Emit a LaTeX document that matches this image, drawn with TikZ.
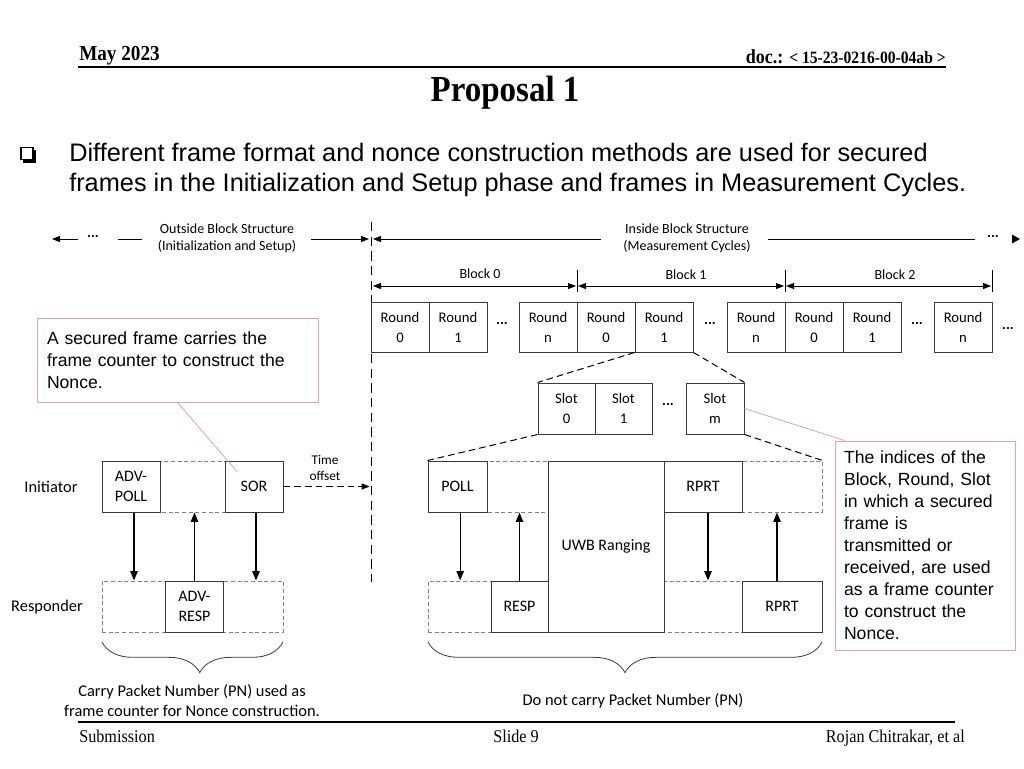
\documentclass[tikz,border=0pt]{standalone}
\usepackage{fontspec}
\setmainfont{Carlito}
\newfontfamily\arialf{Liberation Sans}
\newfontfamily\tnrf{Liberation Serif}
\usetikzlibrary{arrows.meta,decorations.pathreplacing}
\definecolor{pinkc}{HTML}{E8A0AA}
\definecolor{boxc}{HTML}{3A3A3A}
\definecolor{dashc}{HTML}{808080}
\begin{document}
\begin{tikzpicture}[x=0.75pt,y=-0.75pt,
  lbl/.style={font=\fontsize{10.5}{13}\selectfont, align=center, inner sep=1pt},
  bt/.style={font=\fontsize{12.3}{15}\selectfont, align=center, inner sep=1pt},
  dots/.style={font=\fontsize{11}{13}\selectfont\bfseries, inner sep=0pt},
  fbox/.style n args={2}{draw=boxc, line width=0.75pt, fill=white, minimum width=#1*0.75pt, minimum height=#2*0.75pt, inner sep=0pt, font=\fontsize{12}{15}\selectfont, align=center},
  sbox/.style n args={2}{fbox={#1}{#2}, font=\fontsize{11}{15}\selectfont},
  rowbox/.style n args={2}{draw=dashc, line width=0.75pt, dash pattern=on 3pt off 2pt, minimum width=#1*0.75pt, minimum height=#2*0.75pt, inner sep=0pt},
  harr/.style={line width=0.75pt, -{Triangle[length=6pt,width=4.5pt]}},
  barr/.style={line width=0.75pt, {Triangle[length=6pt,width=4.5pt]}-{Triangle[length=6pt,width=4.5pt]}},
  varr/.style={line width=1pt, -{Triangle[length=7pt,width=5.5pt]}},
  expd/.style={line width=0.75pt, dash pattern=on 5pt off 3pt},
  pinkln/.style={draw=pinkc, line width=0.6pt},
  callout/.style={draw=pinkc, line width=0.75pt, fill=white, inner sep=0pt, font=\arialf\fontsize{13.2}{16.5}\selectfont, align=left},
  hdr/.style={font=\tnrf\bfseries, inner sep=0pt},
  foot/.style={inner sep=0pt, font=\tnrf\fontsize{13.5}{15}\selectfont},
  brc/.style={line width=0.6pt, draw=boxc, decorate, decoration={brace, amplitude=23pt, aspect=#1}},
]
\useasboundingbox (0,0) rectangle (1024,768);

% ---------- header ----------
\node[hdr, anchor=base west] (may) at (79,60) {\fontsize{16}{18}\selectfont\scalebox{0.9}[1]{May 2023}};
\node[hdr, anchor=base east] (doc) at (946,63) {\scalebox{0.9}[1]{\fontsize{15}{17}\selectfont doc.: \fontsize{13}{15}\selectfont < 15-23-0216-00-04ab >}};
\coordinate (hl1) at (78,67);
\coordinate (hl2) at (946,67);
\draw[line width=1.5pt] (hl1) -- (hl2);
\node[hdr, anchor=base] (title) at (505,101) {\fontsize{27.5}{30}\selectfont\scalebox{0.9}[1]{Proposal 1}};

% ---------- bullet ----------
\draw[line width=0.9pt] (21,147.5) rectangle (33,159.5);
\fill (33,150) rectangle (36,162.5);
\fill (23,159.5) rectangle (36,162.5);
\node[anchor=north west, inner sep=0pt, font=\arialf\fontsize{19}{22.5}\selectfont, align=left] (bullet) at (69,143)
  {Different frame format and nonce construction methods are used for secured\\frames in the Initialization and Setup phase and frames in Measurement Cycles.};

% ---------- top structure arrows ----------
\coordinate (vtop) at (371,222);
\coordinate (vbot) at (371,582);
\draw[line width=0.75pt, dash pattern=on 7pt off 4pt] (vtop) -- (vbot);

\node[lbl] (outside) at (227,238) {Outside Block Structure\\(Initialization and Setup)};
\node[dots] (dotsL) at (93,237) {...};
\coordinate (oL1) at (78,239);
\coordinate (oL0) at (52,239);
\draw[harr] (oL1) -- (oL0);
\draw[line width=0.75pt] ([xshift=14pt]dotsL.east |- oL1) -- ([xshift=-11pt]outside.west |- oL1);
\coordinate (oR) at (369,239);
\draw[harr] ([xshift=10pt]outside.east |- oR) -- (oR);

\node[lbl] (inside) at (687,238) {Inside Block Structure\\(Measurement Cycles)};
\coordinate (iL) at (373,239);
\draw[harr] ([xshift=-16pt]inside.west |- iL) -- (iL);
\node[dots] (dotsR) at (993,237) {...};
\coordinate (iR) at (975,239);
\draw[line width=0.75pt] ([xshift=12pt]inside.east |- iR) -- (iR);
\fill (1012,234.5) -- (1020,239) -- (1012,243.5) -- cycle;

% ---------- blocks ----------
\coordinate (t1) at (577,270);
\coordinate (t2) at (785,270);
\coordinate (t3) at (992,270);
\foreach \t in {t1,t2,t3} \draw[line width=0.75pt] (\t) -- ++(0,22);
\coordinate (b0a) at (373,286);
\coordinate (b0b) at (576,286);
\coordinate (b1a) at (578,286);
\coordinate (b1b) at (784,286);
\coordinate (b2a) at (786,286);
\coordinate (b2b) at (991,286);
\draw[barr] (b0a) -- (b0b);
\draw[barr] (b1a) -- (b1b);
\draw[barr] (b2a) -- (b2b);
\node[lbl] (blk0) at (480,274) {Block 0};
\node[lbl] (blk1) at (686,275) {Block 1};
\node[lbl] (blk2) at (895,275) {Block 2};

% ---------- rounds ----------
\node[sbox={58}{50}] (r00) at (400,327) {Round\\0};
\node[sbox={58}{50}] (r01) at (458,327) {Round\\1};
\node[dots] (rd1) at (502,324) {...};
\node[sbox={58}{50}] (r0n) at (548,327) {Round\\n};
\node[sbox={58}{50}] (r10) at (606,327) {Round\\0};
\node[sbox={58}{50}] (r11) at (664,327) {Round\\1};
\node[dots] (rd2) at (710,324) {...};
\node[sbox={58}{50}] (r1n) at (756,327) {Round\\n};
\node[sbox={58}{50}] (r20) at (814,327) {Round\\0};
\node[sbox={58}{50}] (r21) at (872,327) {Round\\1};
\node[dots] (rd3) at (917,324) {...};
\node[sbox={58}{50}] (r2n) at (963,327) {Round\\n};
\node[dots] (rd4) at (1008,329) {...};

% ---------- slots ----------
\node[sbox={57}{51}] (s0) at (566.5,408.5) {Slot\\0};
\node[sbox={57}{51}] (s1) at (623.5,408.5) {Slot\\1};
\node[dots] (sd) at (668,405) {...};
\node[sbox={58}{51}] (sm) at (715,408.5) {Slot\\m};
\draw[expd] (r11.south west) -- (s0.north west);
\draw[expd] (r11.south east) -- (sm.north east);

% ---------- lower right ----------
\node[rowbox={394}{51}] (rowI2) at (625,486.5) {};
\node[rowbox={394}{51}] (rowR2) at (625,606.5) {};
\draw[expd] (s0.south west) -- (rowI2.north west);
\draw[expd] (sm.south east) -- (rowI2.north east);
\node[fbox={59}{51}] (poll) at (457.5,486.5) {POLL};
\node[fbox={78}{51}] (rprtI) at (703,486.5) {RPRT};
\node[fbox={57}{51}] (resp) at (519.5,606.5) {RESP};
\node[fbox={80}{51}] (rprtR) at (782,606.5) {RPRT};
\node[fbox={116}{171}] (uwb) at (606,546.5) {UWB Ranging};
\draw[varr] ([xshift=2pt]poll.south) -- ([xshift=2pt]poll.south |- rowR2.north);
\draw[varr] (resp.north) -- (resp.north |- rowI2.south);
\draw[varr] ([xshift=3.75pt]rprtI.south) -- ([xshift=3.75pt]rprtI.south |- rowR2.north);
\draw[varr] ([xshift=-3.75pt]rprtR.north) -- ([xshift=-3.75pt]rprtR.north |- rowI2.south);

% ---------- lower left ----------
\node[rowbox={181}{51}] (rowI1) at (192.5,486.5) {};
\node[rowbox={181}{51}] (rowR1) at (192.5,606.5) {};
\node[fbox={58}{51}] (advpoll) at (131,486.5) {ADV-\\POLL};
\node[fbox={58}{51}] (sor) at (254,486.5) {SOR};
\node[fbox={58}{51}] (advresp) at (194.5,606.5) {ADV-\\RESP};
\draw[varr] ([xshift=2.25pt]advpoll.south) -- ([xshift=2.25pt]advpoll.south |- rowR1.north);
\draw[varr] (advresp.north) -- (advresp.north |- rowI1.south);
\draw[varr] ([xshift=1.5pt]sor.south) -- ([xshift=1.5pt]sor.south |- rowR1.north);
\node[bt] (init) at (51,487) {Initiator};
\node[bt] (respd) at (47,607) {Responder};
\node[lbl, font=\fontsize{10}{12.5}\selectfont] (toff) at (325,468) {Time\\offset};
\draw[line width=0.75pt, dash pattern=on 5pt off 3pt, -{Triangle[length=6pt,width=4.5pt]}] (sor.east) -- ([xshift=-1pt]vtop |- sor.east);

% ---------- callouts ----------
\node[callout, minimum width=281*0.75pt, minimum height=84*0.75pt, text width=261*0.75pt] (cbL) at (177.5,360)
  {A secured frame carries the\\frame counter to construct the\\Nonce.};
\draw[pinkln] (cbL.south) -- ([shift={(-17,-15)}]sor.center);
\node[callout, minimum width=180*0.75pt, minimum height=209*0.75pt, text width=162*0.75pt] (cbR) at (925,545.5)
  {The indices of the\\Block, Round, Slot\\in which a secured\\frame is\\transmitted or\\received, are used\\as a frame counter\\to construct the\\Nonce.};
\draw[pinkln] (sm.east) -- ([xshift=10*0.75pt]cbR.north west);

% ---------- braces ----------
\coordinate (bl1) at (283,642);
\coordinate (bl0) at (102,642);
\draw[brc=0.46] (bl1) -- (bl0);
\coordinate (br1) at (822,642);
\coordinate (br0) at (428,642);
\draw[brc=0.50] (br1) -- (br0);
\node[bt] (carry) at (192,701) {Carry Packet Number (PN) used as\\frame counter for Nonce construction.};
\node[bt] (donot) at (633,701) {Do not carry Packet Number (PN)};

% ---------- footer ----------
\coordinate (fl1) at (78,722);
\coordinate (fl2) at (955,722);
\draw[line width=1.5pt] (fl1) -- (fl2);
\node[foot, anchor=base west] (sub) at (79,742) {\scalebox{0.9}[1]{Submission}};
\node[foot, anchor=base] (slide) at (516,742) {\scalebox{0.9}[1]{Slide 9}};
\node[foot, anchor=base east] (auth) at (965,742) {\scalebox{0.9}[1]{Rojan Chitrakar, et al}};
\end{tikzpicture}
\end{document}
